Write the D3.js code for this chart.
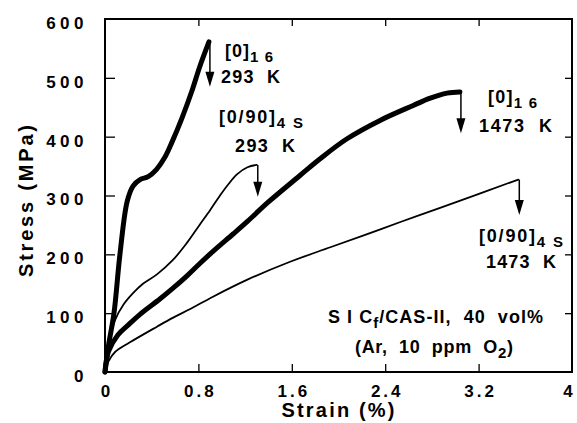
<!DOCTYPE html>
<html><head><meta charset="utf-8">
<script src="https://cdn.jsdelivr.net/npm/d3@7"></script>
<style>
html,body{margin:0;padding:0;background:#fff;}
svg{display:block;}
text{font-family:"Liberation Sans",Arial,Helvetica,sans-serif;font-weight:bold;fill:#000;}
</style></head>
<body>
<svg id="c" width="577" height="423"></svg>
<script>
// ---- data ----
const xTickValues = [0, 0.8, 1.6, 2.4, 3.2, 4];
const xTickLabels = ["0", "0.8", "1.6", "2.4", "3.2", "4"];
const yTickValues = [0, 100, 200, 300, 400, 500, 600];
const yTickLabels = ["0", "100", "200", "300", "400", "500", "600"];

// [0]16, 293 K
const strain0_293 = [0, 0.03, 0.077, 0.128, 0.19, 0.24, 0.30, 0.37, 0.44, 0.51, 0.57, 0.66, 0.745, 0.81, 0.89];
const stress0_293 = [0, 45, 100, 200, 290, 316, 327, 332, 344, 364, 389, 432, 478, 518, 561];
// [0/90]4S, 293 K
const strain090_293 = [0, 0.03, 0.086, 0.16, 0.24, 0.325, 0.445, 0.58, 0.70, 0.81, 0.90, 0.985, 1.06, 1.13, 1.22, 1.30];
const stress090_293 = [0, 45, 88, 115, 134, 150, 166, 190, 219, 250, 275, 300, 320, 336, 348, 352];
// [0]16, 1473 K
const strain0_1473 = [0, 0.03, 0.11, 0.2, 0.30, 0.47, 0.58, 0.70, 0.81, 0.925, 1.10, 1.22, 1.40, 1.67, 1.84, 2.07, 2.36, 2.64, 2.78, 2.93, 3.04];
const stress0_1473 = [0, 35, 63, 80, 98, 124, 142, 163, 184, 205, 235, 256, 289, 334, 362, 396, 428, 453, 465, 474, 476];
// [0/90]4S, 1473 K
const strain090_1473 = [0, 0.03, 0.086, 0.21, 0.445, 0.58, 0.73, 0.925, 1.22, 1.58, 1.93, 2.24, 2.53, 2.87, 3.15, 3.44, 3.54];
const stress090_1473 = [0, 18, 34, 50, 77, 92, 107, 128, 157, 187, 212, 234, 255, 279, 299, 320, 327];
// failure arrow tips (MPa)
const arrowTip = [485, 298, 406, 267];

// ---- chart ----
const svg = d3.select("#c");
const x = d3.scaleLinear().domain([0, 4]).range([105, 572]);
const y = d3.scaleLinear().domain([0, 600]).range([372, 19]);

// frame
svg.append("rect").attr("x", x(0)).attr("y", y(600))
  .attr("width", x(4) - x(0)).attr("height", y(0) - y(600))
  .attr("fill", "none").attr("stroke", "#000").attr("stroke-width", 2);

// bottom axis
const gx = svg.append("g").attr("transform", `translate(0,${y(0)})`)
  .call(d3.axisBottom(x).tickValues(xTickValues).tickFormat((d, i) => xTickLabels[i])
    .tickSizeInner(-8).tickSizeOuter(0).tickPadding(13));
gx.select(".domain").remove();
gx.selectAll("line").attr("stroke", "#000").attr("stroke-width", 1.3);
gx.selectAll("text").attr("font-size", 17).attr("letter-spacing", 3).attr("font-family", null)
  .attr("dy", "0.71em").attr("dx", 1.5);
gx.selectAll(".tick").filter((d) => d === 4).select("text").attr("dx", -3);
gx.selectAll(".tick").filter((d) => d === 0 || d === 4).select("line").remove();

// left axis
const gy = svg.append("g").attr("transform", `translate(${x(0)},0)`)
  .call(d3.axisLeft(y).tickValues(yTickValues).tickFormat((d, i) => yTickLabels[i])
    .tickSizeInner(-10).tickSizeOuter(0).tickPadding(17));
gy.select(".domain").remove();
gy.selectAll("line").attr("stroke", "#000").attr("stroke-width", 1.3);
gy.selectAll("text").attr("font-size", 17).attr("letter-spacing", 4.5).attr("font-family", null)
  .attr("dy", "0.55em");
gy.selectAll(".tick").filter((d) => d === 0 || d === 600).select("line").remove();

// top axis ticks
const gt = svg.append("g").attr("transform", `translate(0,${y(600)})`)
  .call(d3.axisTop(x).tickValues(xTickValues.slice(1, -1)).tickFormat("").tickSizeInner(-7).tickSizeOuter(0));
gt.select(".domain").remove();
gt.selectAll("line").attr("stroke", "#000").attr("stroke-width", 1.3);

// right axis ticks
const gr = svg.append("g").attr("transform", `translate(${x(4)},0)`)
  .call(d3.axisRight(y).tickValues(yTickValues.slice(1, -1)).tickFormat("").tickSizeInner(-7).tickSizeOuter(0));
gr.select(".domain").remove();
gr.selectAll("line").attr("stroke", "#000").attr("stroke-width", 1.3);

// axis titles
svg.append("text").attr("x", 338).attr("y", 417).attr("text-anchor", "middle")
  .attr("font-size", 20).attr("textLength", 113).attr("lengthAdjust", "spacing").text("Strain (%)");
svg.append("text").attr("transform", "translate(33,201) rotate(-90)").attr("text-anchor", "middle")
  .attr("font-size", 20).attr("textLength", 152).attr("lengthAdjust", "spacing").text("Stress (MPa)");

// curves
const series = [
  { xs: strain0_293, ys: stress0_293, w: 5 },
  { xs: strain090_293, ys: stress090_293, w: 1.8 },
  { xs: strain0_1473, ys: stress0_1473, w: 5 },
  { xs: strain090_1473, ys: stress090_1473, w: 1.8 },
];
const line = d3.line().x((d) => x(d[0])).y((d) => y(d[1])).curve(d3.curveCatmullRom.alpha(0.5));
series.forEach((s, i) => {
  const pts = s.xs.map((v, k) => [v, s.ys[k]]);
  svg.append("path").attr("d", line(pts)).attr("fill", "none").attr("stroke", "#000")
    .attr("stroke-width", s.w).attr("stroke-linecap", "round").attr("stroke-linejoin", "round");
  // failure arrow
  const last = pts[pts.length - 1];
  const ax = x(last[0]) + 1, y0 = y(last[1]), y1 = y(arrowTip[i]);
  svg.append("line").attr("x1", ax).attr("x2", ax).attr("y1", y0).attr("y2", y1 - 6)
    .attr("stroke", "#000").attr("stroke-width", 1.5);
  svg.append("path").attr("d", `M${ax - 4.5},${y1 - 15}L${ax + 4.5},${y1 - 15}L${ax},${y1}Z`).attr("fill", "#000");
});

// annotation labels
function label(xp, yp, parts, len) {
  const t = svg.append("text").attr("x", xp).attr("y", yp).attr("font-size", 18)
    .attr("xml:space", "preserve").style("white-space", "pre");
  parts.forEach((p) => {
    const ts = t.append("tspan").text(p.t);
    if (p.sub) ts.attr("font-size", 15).attr("dy", 5);
    if (p.up) ts.attr("dy", -5);
  });
  if (len) t.attr("textLength", len).attr("lengthAdjust", "spacing");
  return t;
}
label(225, 57, [{ t: "[0]" }, { t: "1 6", sub: true }], 48);
label(221, 83, [{ t: "293  K" }], 59);
label(219, 123, [{ t: "[0/90]" }, { t: "4 S", sub: true }], 84);
label(235, 152, [{ t: "293  K" }], 60);
label(488, 103, [{ t: "[0]" }, { t: "1 6", sub: true }], 49);
label(479, 132, [{ t: "1473  K" }], 73);
label(479, 242, [{ t: "[0/90]" }, { t: "4 S", sub: true }], 84);
label(486, 268, [{ t: "1473  K" }], 70);
label(328, 323, [{ t: "S I C" }, { t: "f", sub: true }, { t: "/CAS-II,  40  vol%", up: true }], 215);
label(355, 353, [{ t: "(Ar,  10  ppm  O" }, { t: "2", sub: true }, { t: ")", up: true }], 158);
</script>
</body></html>
